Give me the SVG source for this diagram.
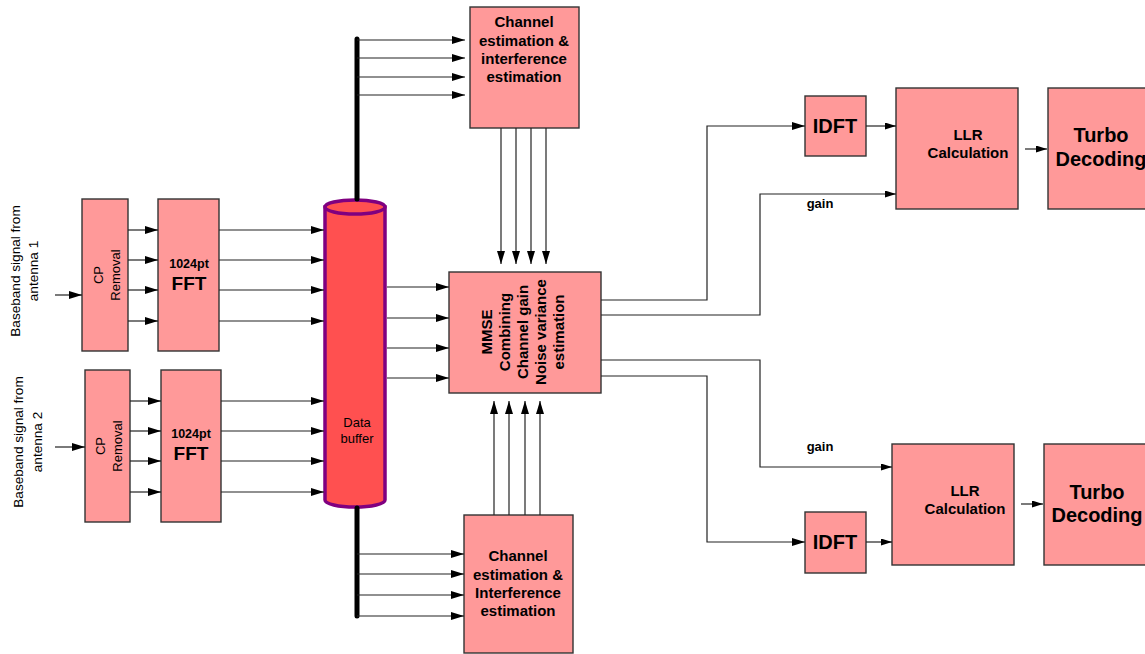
<svg xmlns="http://www.w3.org/2000/svg" width="1145" height="654" viewBox="0 0 1145 654">
  <defs>
    <marker id="ah" markerUnits="userSpaceOnUse" markerWidth="13" markerHeight="8" refX="13" refY="4" orient="auto">
      <path d="M0,0 L13,4 L0,8 z" fill="#000"/>
    </marker>
    <marker id="ahs" markerUnits="userSpaceOnUse" markerWidth="11" markerHeight="7" refX="11" refY="3.5" orient="auto">
      <path d="M0,0 L11,3.5 L0,7 z" fill="#000"/>
    </marker>
    <style>
      .box { fill: #FF9999; stroke: #333; stroke-width: 1.4; }
      .ln { fill: none; stroke: #222; stroke-width: 1.2; }
      .arr { fill: none; stroke: #222; stroke-width: 1.2; marker-end: url(#ah); }
      .arrs { fill: none; stroke: #222; stroke-width: 1.2; marker-end: url(#ahs); }
      .bus { stroke: #000; stroke-width: 5; stroke-linecap: round; fill: none; }
      text { font-family: "Liberation Sans", Arial, sans-serif; fill: #000; }
      .reg { font-size: 13px; }
      .ant { font-size: 13.6px; }
      .b15 { font-size: 15px; font-weight: bold; }
      .b13 { font-size: 13px; font-weight: bold; }
      .b20 { font-size: 20px; font-weight: bold; }
      .c { text-anchor: middle; }
    </style>
  </defs>

  <!-- antenna input labels -->
  <g id="label-ant1">
    <text class="ant c" transform="translate(15,271) rotate(-90)" dy="0.35em">Baseband signal from</text>
    <text class="ant c" transform="translate(33,271) rotate(-90)" dy="0.35em">antenna 1</text>
  </g>
  <g id="label-ant2">
    <text class="ant c" transform="translate(18,442) rotate(-90)" dy="0.35em">Baseband signal from</text>
    <text class="ant c" transform="translate(37,442) rotate(-90)" dy="0.35em">antenna 2</text>
  </g>

  <!-- CP removal blocks -->
  <g id="cp1">
    <rect class="box" x="82" y="199" width="46" height="152"/>
    <text class="reg c" transform="translate(98,275) rotate(-90)" dy="0.35em">CP</text>
    <text class="reg c" transform="translate(115,275) rotate(-90)" dy="0.35em">Removal</text>
  </g>
  <g id="cp2">
    <rect class="box" x="85" y="370" width="45" height="152"/>
    <text class="reg c" transform="translate(100,446) rotate(-90)" dy="0.35em">CP</text>
    <text class="reg c" transform="translate(117,446) rotate(-90)" dy="0.35em">Removal</text>
  </g>

  <!-- FFT blocks -->
  <g id="fft1">
    <rect class="box" x="158" y="199" width="61" height="152"/>
    <text class="c" x="189" y="268" font-size="12.5" font-weight="bold">1024pt</text>
    <text class="c" x="189" y="290" font-size="19" font-weight="bold">FFT</text>
  </g>
  <g id="fft2">
    <rect class="box" x="161" y="370" width="60" height="152"/>
    <text class="c" x="191" y="438" font-size="12.5" font-weight="bold">1024pt</text>
    <text class="c" x="191" y="460" font-size="19" font-weight="bold">FFT</text>
  </g>

  <!-- data buffer cylinder -->
  <g id="data-buffer">
    <path d="M325,207 L325,500 A30,7 0 0 0 385,500 L385,207 z" fill="#FF5050" stroke="#800080" stroke-width="3.5"/>
    <ellipse cx="355" cy="207" rx="30" ry="7" fill="#FF5050" stroke="#800080" stroke-width="3.5"/>
    <text class="reg c" x="357" y="427">Data</text>
    <text class="reg c" x="357" y="443">buffer</text>
  </g>

  <!-- channel estimation blocks -->
  <g id="chest-top">
    <rect class="box" x="470" y="7" width="109" height="121"/>
    <text class="b15 c" x="524" y="27">Channel</text>
    <text class="b15 c" x="524" y="46">estimation &amp;</text>
    <text class="b15 c" x="524" y="64">interference</text>
    <text class="b15 c" x="524" y="82">estimation</text>
  </g>
  <g id="chest-bottom">
    <rect class="box" x="464" y="515" width="109" height="138"/>
    <text class="b15 c" x="518" y="561">Channel</text>
    <text class="b15 c" x="518" y="580">estimation &amp;</text>
    <text class="b15 c" x="518" y="598">Interference</text>
    <text class="b15 c" x="518" y="616">estimation</text>
  </g>

  <!-- MMSE combining block -->
  <g id="mmse">
    <rect class="box" x="449" y="272" width="152" height="121"/>
    <g transform="translate(524,332) rotate(-90)">
      <text class="b15 c" x="0" y="-32">MMSE</text>
      <text class="b15 c" x="0" y="-14">Combining</text>
      <text class="b15 c" x="0" y="4">Channel gain</text>
      <text class="b15 c" x="0" y="22">Noise variance</text>
      <text class="b15 c" x="0" y="40">estimation</text>
    </g>
  </g>

  <!-- IDFT blocks -->
  <g id="idft1">
    <rect class="box" x="805" y="96" width="61" height="60"/>
    <text class="b20 c" x="835" y="133">IDFT</text>
  </g>
  <g id="idft2">
    <rect class="box" x="805" y="512" width="61" height="61"/>
    <text class="b20 c" x="835" y="549">IDFT</text>
  </g>

  <!-- LLR blocks -->
  <g id="llr1">
    <rect class="box" x="896" y="88" width="122" height="121"/>
    <text class="b15 c" x="968" y="140">LLR</text>
    <text class="b15 c" x="968" y="158">Calculation</text>
  </g>
  <g id="llr2">
    <rect class="box" x="892" y="444" width="122" height="121"/>
    <text class="b15 c" x="965" y="496">LLR</text>
    <text class="b15 c" x="965" y="514">Calculation</text>
  </g>

  <!-- turbo decoders -->
  <g id="turbo1">
    <rect class="box" x="1048" y="88" width="110" height="121"/>
    <text class="b20 c" x="1101" y="142">Turbo</text>
    <text class="b20 c" x="1101" y="166">Decoding</text>
  </g>
  <g id="turbo2">
    <rect class="box" x="1044" y="444" width="110" height="121"/>
    <text class="b20 c" x="1097" y="499">Turbo</text>
    <text class="b20 c" x="1097" y="522">Decoding</text>
  </g>

  <!-- connectors -->
  <g id="connectors">
    <!-- antenna inputs -->
    <line class="arr" x1="55" y1="295" x2="82" y2="295"/>
    <line class="arr" x1="55" y1="447" x2="85" y2="447"/>

    <!-- CP removal to FFT -->
    <line class="arr" x1="128" y1="230" x2="158" y2="230"/>
    <line class="arr" x1="128" y1="260" x2="158" y2="260"/>
    <line class="arr" x1="128" y1="290" x2="158" y2="290"/>
    <line class="arr" x1="128" y1="321" x2="158" y2="321"/>
    <line class="arr" x1="130" y1="401" x2="161" y2="401"/>
    <line class="arr" x1="130" y1="431" x2="161" y2="431"/>
    <line class="arr" x1="130" y1="461" x2="161" y2="461"/>
    <line class="arr" x1="130" y1="492" x2="161" y2="492"/>

    <!-- FFT to data buffer -->
    <line class="arr" x1="219" y1="230" x2="324" y2="230"/>
    <line class="arr" x1="219" y1="260" x2="324" y2="260"/>
    <line class="arr" x1="219" y1="290" x2="324" y2="290"/>
    <line class="arr" x1="219" y1="321" x2="324" y2="321"/>
    <line class="arr" x1="221" y1="401" x2="324" y2="401"/>
    <line class="arr" x1="221" y1="431" x2="324" y2="431"/>
    <line class="arr" x1="221" y1="461" x2="324" y2="461"/>
    <line class="arr" x1="221" y1="492" x2="324" y2="492"/>

    <!-- buses out of the buffer -->
    <line class="bus" x1="357" y1="39" x2="357" y2="199"/>
    <line class="bus" x1="357" y1="508" x2="357" y2="616"/>
    <line class="arr" x1="357" y1="40" x2="465" y2="40"/>
    <line class="arr" x1="357" y1="58" x2="465" y2="58"/>
    <line class="arr" x1="357" y1="77" x2="465" y2="77"/>
    <line class="arr" x1="357" y1="95" x2="465" y2="95"/>
    <line class="arr" x1="357" y1="554" x2="464" y2="554"/>
    <line class="arr" x1="357" y1="574" x2="464" y2="574"/>
    <line class="arr" x1="357" y1="595" x2="464" y2="595"/>
    <line class="arr" x1="357" y1="616" x2="464" y2="616"/>

    <!-- data buffer to MMSE -->
    <line class="arr" x1="387" y1="287" x2="449" y2="287"/>
    <line class="arr" x1="387" y1="318" x2="449" y2="318"/>
    <line class="arr" x1="387" y1="348" x2="449" y2="348"/>
    <line class="arr" x1="387" y1="378" x2="449" y2="378"/>

    <!-- channel estimates into MMSE -->
    <line class="arr" x1="501" y1="128" x2="501" y2="264"/>
    <line class="arr" x1="516" y1="128" x2="516" y2="264"/>
    <line class="arr" x1="531" y1="128" x2="531" y2="264"/>
    <line class="arr" x1="546" y1="128" x2="546" y2="264"/>
    <line class="arr" x1="494" y1="515" x2="494" y2="401"/>
    <line class="arr" x1="509" y1="515" x2="509" y2="401"/>
    <line class="arr" x1="525" y1="515" x2="525" y2="401"/>
    <line class="arr" x1="540" y1="515" x2="540" y2="401"/>

    <!-- MMSE outputs -->
    <polyline class="arr" points="601,300 707,300 707,126 805,126"/>
    <polyline class="arrs" points="601,315 760,315 760,194 896,194"/>
    <polyline class="arrs" points="601,360 760,360 760,467 892,467"/>
    <polyline class="arr" points="601,376 707,376 707,542 805,542"/>
    <text class="b13 c" x="820" y="208">gain</text>
    <text class="b13 c" x="820" y="451">gain</text>

    <!-- IDFT to LLR, LLR to turbo -->
    <line class="arrs" x1="866" y1="126" x2="896" y2="126"/>
    <line class="arrs" x1="866" y1="542" x2="892" y2="542"/>
    <line class="arrs" x1="1025" y1="149" x2="1047" y2="149"/>
    <line class="arrs" x1="1021" y1="504" x2="1043" y2="504"/>
  </g>
</svg>
